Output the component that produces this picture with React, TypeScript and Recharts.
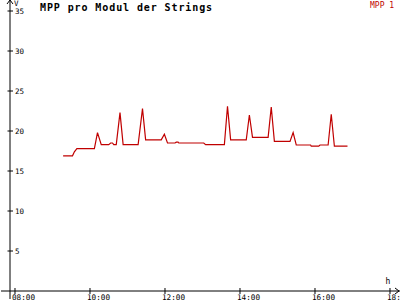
import { LineChart, Line, XAxis, YAxis, ReferenceLine } from 'recharts';

// samples (time of day, volts)
const times = [
  '09:17', '09:32', '09:35', '09:39', '10:07', '10:12', '10:18', '10:30', '10:33', '10:36',
  '10:38', '10:42', '10:48', '10:53', '11:17', '11:24', '11:29', '11:54', '11:59', '12:04',
  '12:16', '12:18', '12:21', '12:22', '13:02', '13:05', '13:35', '13:40', '13:45', '14:10',
  '14:15', '14:20', '14:45', '14:50', '14:55', '15:20', '15:25', '15:30', '15:53', '15:54',
  '16:06', '16:08', '16:21', '16:26', '16:31', '16:52',
];
const mpp1 = [
  16.9, 16.9, 17.4, 17.8, 17.8, 19.8, 18.3, 18.3, 18.5, 18.5,
  18.3, 18.3, 22.3, 18.3, 18.3, 22.8, 18.9, 18.9, 19.6, 18.5,
  18.5, 18.6, 18.6, 18.5, 18.5, 18.3, 18.3, 23.1, 18.9, 18.9,
  22.0, 19.2, 19.2, 23.0, 18.7, 18.7, 19.8, 18.25, 18.25, 18.1,
  18.1, 18.25, 18.25, 22.1, 18.1, 18.1,
];

const xTicks = [8, 10, 12, 14, 16, 18];
const xTickLabels = ['08:00', '10:00', '12:00', '14:00', '16:00', '18:00'];
const yTicks = [5, 10, 15, 20, 25, 30, 35];

const RED = '#c00000';
const MONO = '"DejaVu Sans Mono", "Liberation Mono", monospace';

const toHours = (t: string) => {
  const [h, m] = t.split(':').map(Number);
  return h + m / 60;
};

const data = times.map((t, i) => ({ h: toHours(t), v: mpp1[i] }));

const XTick = (props: any) => {
  const { x, payload } = props;
  const idx = xTicks.indexOf(payload.value);
  return (
    <g>
      <line x1={x} x2={x} y1={288} y2={294} stroke="#000" />
      <text x={x - 3} y={300} fontSize={7.7} fontFamily={MONO} fill="#000">
        {xTickLabels[idx]}
      </text>
    </g>
  );
};

const YTick = (props: any) => {
  const { y, payload } = props;
  return (
    <g>
      <line x1={7.5} x2={13} y1={y} y2={y} stroke="#000" />
      <text x={15} y={y + 2.8} fontSize={7.5} fontFamily={MONO} fill="#000">
        {payload.value}
      </text>
    </g>
  );
};

const ArrowRight = (props: any) => {
  const { x, y, width } = props.viewBox;
  const e = x + width - 1;
  return <polyline points={`${e - 4},${y - 3} ${e},${y} ${e - 4},${y + 3}`} fill="none" stroke="#000" />;
};

const ArrowUp = (props: any) => {
  const { x, y } = props.viewBox;
  return <polyline points={`${x - 3},${y + 4} ${x},${y} ${x + 3},${y + 4}`} fill="none" stroke="#000" />;
};

export default function App() {
  return (
    <div style={{ position: 'absolute', left: 0, top: 0, width: 400, height: 300, background: '#fff' }}>
      <LineChart width={400} height={300} data={data} margin={{ top: 0, right: 0, bottom: 0, left: 0 }}>
        <XAxis
          dataKey="h"
          type="number"
          domain={[7.6267, 18.2667]}
          allowDataOverflow
          ticks={xTicks}
          interval={0}
          height={1}
          axisLine={false}
          tickLine={false}
          tick={XTick}
        />
        <YAxis
          type="number"
          domain={[-1, 36.375]}
          allowDataOverflow
          ticks={yTicks}
          interval={0}
          width={1}
          axisLine={false}
          tickLine={false}
          tick={YTick}
        />
        <ReferenceLine y={0} stroke="#000" label={ArrowRight} />
        <ReferenceLine x={7.8667} stroke="#000" label={ArrowUp} />
        <Line
          type="linear"
          dataKey="v"
          stroke={RED}
          strokeWidth={1.2}
          dot={false}
          activeDot={false}
          isAnimationActive={false}
        />
      </LineChart>
      <svg
        width={400}
        height={300}
        style={{ position: 'absolute', left: 0, top: 0, pointerEvents: 'none' }}
      >
        <text x={40} y={11} fontSize={10} fontWeight="bold" letterSpacing={0.9} fontFamily={MONO} fill="#000">
          MPP pro Modul der Strings
        </text>
        <text x={370} y={7.5} fontSize={8} fontFamily={MONO} fill={RED}>
          MPP 1
        </text>
        <text x={14} y={6} fontSize={7.5} fontFamily={MONO} fill="#000">
          V
        </text>
        <text x={385.5} y={284} fontSize={8} fontFamily={MONO} fill="#000">
          h
        </text>
      </svg>
    </div>
  );
}
